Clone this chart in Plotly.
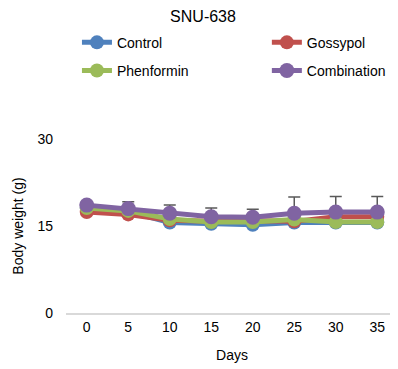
import plotly.graph_objects as go

days = [0, 5, 10, 15, 20, 25, 30, 35]
control = [18.1, 17.5, 15.6, 15.4, 15.2, 15.6, 15.6, 15.6]
gossypol = [17.4, 17.0, 16.0, 15.8, 15.9, 15.8, 16.6, 16.6]
phenformin = [18.1, 17.6, 16.2, 15.7, 15.7, 16.1, 15.7, 15.7]
combination = [18.6, 18.0, 17.2, 16.6, 16.5, 17.2, 17.4, 17.4]
combination_err = [0.0, 1.2, 1.4, 1.5, 1.4, 2.8, 2.7, 2.7]

series = [
    ("Control", control, "#4F81BD", None, "legend"),
    ("Gossypol", gossypol, "#C0504D", None, "legend2"),
    ("Phenformin", phenformin, "#9BBB59", None, "legend"),
    ("Combination", combination, "#8064A2", combination_err, "legend2"),
]

fig = go.Figure()
for name, vals, color, err, leg in series:
    kw = {}
    if err is not None:
        kw["error_y"] = dict(type="data", array=err, arrayminus=[0] * len(err),
                             symmetric=False, color="#595959", thickness=1.5, width=6)
    fig.add_trace(go.Scatter(
        x=days, y=vals, name=name, mode="lines+markers", legend=leg, legendgroup=name,
        line=dict(color=color, width=5),
        marker=dict(color=color, size=15 if name == "Combination" else 14),
        **kw))

fam = "Liberation Sans, Arial, sans-serif"
font = dict(family=fam, size=14, color="#000000")
legend_common = dict(orientation="v", yanchor="top", y=1.645, xanchor="left",
                     font=dict(family=fam, size=14, color="#000000"),
                     tracegroupgap=7, bgcolor="rgba(0,0,0,0)")
fig.update_layout(
    width=390, height=361,
    margin=dict(l=58, r=0, t=131, b=56, autoexpand=False),
    paper_bgcolor="white", plot_bgcolor="white",
    font=font,
    title=dict(text="SNU-638", x=0.5, xanchor="center", y=0.977, yanchor="middle",
               font=dict(family=fam, size=16, color="#000000")),
    showlegend=True,
    legend=dict(x=0.033, **legend_common),
    legend2=dict(x=0.605, **legend_common),
    xaxis=dict(range=[-2.5, 37.5], tickmode="array", tickvals=days,
               ticktext=[str(d) for d in days], showgrid=False, zeroline=False,
               showline=True, linecolor="#D9D9D9", linewidth=1.5, automargin=False,
               ticks="", tickfont=dict(size=14),
               title=dict(text="Days", font=dict(size=14), standoff=17)),
    yaxis=dict(range=[0, 30], tickvals=[0, 15, 30], showgrid=False, zeroline=False,
               showline=False, ticks="", tickfont=dict(size=14), ticklabelstandoff=12,
               automargin=False,
               title=dict(text="Body weight (g)", font=dict(size=14), standoff=10)),
)

fig.write_html("out.html")
